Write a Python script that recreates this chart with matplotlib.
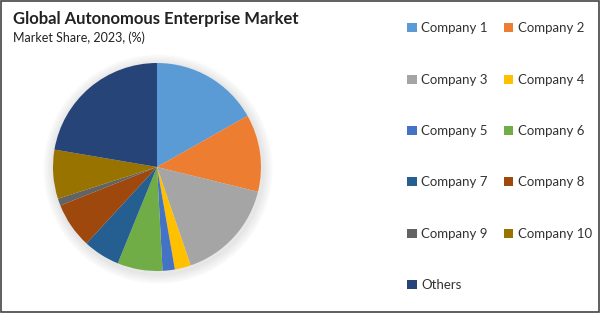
import matplotlib.pyplot as plt
from matplotlib.patches import Circle, Rectangle

plt.rcParams['font.family'] = ['Lato', 'DejaVu Sans']

labels = ["Company 1", "Company 2", "Company 3", "Company 4", "Company 5",
          "Company 6", "Company 7", "Company 8", "Company 9", "Company 10", "Others"]
shares = [16.8, 12.0, 15.9, 2.5, 1.9, 7.0, 5.7, 7.1, 1.1, 7.6, 22.3]
colors = ["#5B9BD5", "#ED7D31", "#A5A5A5", "#FFC000", "#4472C4", "#70AD47",
          "#255E91", "#9E480E", "#636363", "#997300", "#264478"]

fig = plt.figure(figsize=(6, 3.13), dpi=100)
fig.patch.set_facecolor('white')

# border around the whole picture
fig.add_artist(Rectangle((0.001, 0.002), 0.997, 0.995, transform=fig.transFigure,
                         fill=False, edgecolor='#444444', linewidth=1.2))

ax = fig.add_axes([0.0883, 0.1342, 0.3467, 0.6645])

# soft shadow behind the pie
for i in range(8):
    c = Circle((0.01, -0.02), 1.0 + 0.012 * (8 - i), color='black',
               alpha=0.012, zorder=0)
    c.set_clip_on(False)
    ax.add_patch(c)

wedges, _ = ax.pie(shares, colors=colors, startangle=90, counterclock=False,
                   radius=1.0, wedgeprops=dict(linewidth=0))
for w in wedges:
    w.set_zorder(2)
ax.set_xlim(-1.0, 1.0)
ax.set_ylim(-1.0, 1.0)
ax.set_aspect('equal')
ax.axis('off')

fig.text(0.022, 0.94, "Global Autonomous Enterprise Market", fontsize=12,
         fontweight='bold', color='#222222', va='center')
fig.text(0.022, 0.88, "Market Share, 2023, (%)", fontsize=9, color='#222222',
         va='center')

# legend is read row by row in the reference: reorder for column filling
order = [0, 2, 4, 6, 8, 10, 1, 3, 5, 7, 9]
leg = fig.legend([wedges[i] for i in order], [labels[i] for i in order], ncol=2,
                 loc='upper left', bbox_to_anchor=(0.670, 0.945), frameon=False,
                 fontsize=9.5, handlelength=0.7, handleheight=0.7,
                 handletextpad=0.35, labelspacing=2.98, columnspacing=1.25,
                 borderaxespad=0)
for t in leg.get_texts():
    t.set_color('#333333')

fig.savefig('out.png', dpi=100)
